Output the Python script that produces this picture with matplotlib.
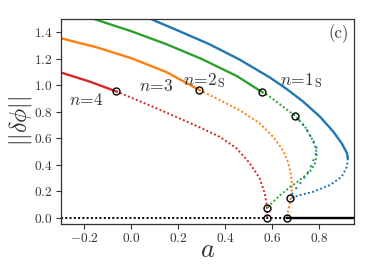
import matplotlib
matplotlib.use("Agg")
import matplotlib.pyplot as plt

plt.rcParams['font.family'] = 'serif'
plt.rcParams['font.serif'] = ['cmr10']
plt.rcParams['mathtext.fontset'] = 'cm'
plt.rcParams['axes.formatter.use_mathtext'] = True

# n=1S (blue)
blue_solid_a = [0.05, 0.09, 0.19, 0.333, 0.461, 0.59, 0.662, 0.733, 0.804, 0.861, 0.897, 0.919, 0.923]
blue_solid_y = [1.525, 1.495, 1.42, 1.31, 1.195, 1.06, 0.973, 0.877, 0.764, 0.651, 0.563, 0.49, 0.45]
blue_low_a = [0.923, 0.919, 0.897, 0.847, 0.776, 0.719, 0.676]
blue_low_y = [0.45, 0.387, 0.311, 0.249, 0.198, 0.173, 0.148]
blue_up_a = [0.676, 0.69, 0.726, 0.754, 0.773, 0.786, 0.790, 0.787, 0.769, 0.74, 0.697]
blue_up_y = [0.148, 0.198, 0.274, 0.349, 0.42, 0.48, 0.52, 0.55, 0.601, 0.689, 0.772]

# n=2S (green)
green_solid_a = [-0.19, -0.15, 0.0, 0.15, 0.30, 0.45, 0.557]
green_solid_y = [1.52, 1.495, 1.408, 1.31, 1.199, 1.07, 0.95]
green_dot_a = [0.557, 0.59, 0.647, 0.697, 0.74, 0.769, 0.787, 0.790, 0.783, 0.761, 0.719, 0.676, 0.633, 0.60, 0.578]
green_dot_y = [0.95, 0.915, 0.839, 0.772, 0.689, 0.601, 0.526, 0.475, 0.412, 0.349, 0.287, 0.232, 0.17, 0.115, 0.073]

# n=3 (orange)
orange_solid_a = [-0.30, -0.15, 0.0, 0.15, 0.29]
orange_solid_y = [1.355, 1.288, 1.205, 1.10, 0.965]
orange_dot_a = [0.29, 0.376, 0.461, 0.547, 0.604, 0.635, 0.652, 0.668, 0.679, 0.685, 0.683, 0.676, 0.668, 0.664]
orange_dot_y = [0.965, 0.89, 0.814, 0.714, 0.613, 0.54, 0.488, 0.42, 0.34, 0.26, 0.19, 0.12, 0.05, 0.0]

# n=4 (red)
red_solid_a = [-0.30, -0.18, -0.065]
red_solid_y = [1.097, 1.03, 0.955]
red_dot_a = [-0.065, 0.05, 0.13, 0.204, 0.29, 0.376, 0.447, 0.504, 0.547, 0.569, 0.578, 0.578]
red_dot_y = [0.955, 0.87, 0.81, 0.752, 0.685, 0.613, 0.528, 0.415, 0.30, 0.186, 0.085, 0.0]

# trivial branch (black)
zero_dot_a = [-0.30, 0.664]
zero_solid_a = [0.664, 0.95]

# bifurcation points
pts_a = [-0.065, 0.29, 0.557, 0.697, 0.676, 0.578, 0.578, 0.664]
pts_y = [0.955, 0.965, 0.95, 0.772, 0.148, 0.073, 0.0, 0.0]

fig = plt.figure(figsize=(3.74, 2.80), dpi=100)
ax = fig.add_axes([0.163, 0.2, 0.784, 0.732])

lw = 1.7
dlw = 1.4
dots = (0, (1, 1.2))
ax.plot(zero_dot_a, [0, 0], color='k', ls=dots, lw=dlw)
ax.plot(zero_solid_a, [0, 0], color='k', ls='-', lw=lw)

ax.plot(blue_solid_a, blue_solid_y, color='tab:blue', lw=lw)
ax.plot(blue_low_a, blue_low_y, color='tab:blue', ls=dots, lw=dlw)
ax.plot(green_solid_a, green_solid_y, color='tab:green', lw=lw)
ax.plot(green_dot_a, green_dot_y, color='tab:green', ls=dots, lw=dlw)
ax.plot(blue_up_a, blue_up_y, color='tab:blue', ls=(1.1, (1, 2.4)), lw=dlw)
ax.plot(orange_solid_a, orange_solid_y, color='tab:orange', lw=lw)
ax.plot(orange_dot_a, orange_dot_y, color='tab:orange', ls=dots, lw=dlw)
ax.plot(red_solid_a, red_solid_y, color='tab:red', lw=lw)
ax.plot(red_dot_a, red_dot_y, color='tab:red', ls=dots, lw=dlw)

ax.plot(pts_a, pts_y, ls='none', marker='o', ms=5, mfc='none', mec='k', mew=1.0, zorder=5)

fs = 12.5
tc = '#333333'
ax.text(-0.192, 0.89, r'$n\!=\!4$', fontsize=fs, ha='center', va='center', color=tc)
ax.text(0.109, 0.995, r'$n\!=\!3$', fontsize=fs, ha='center', va='center', color=tc)
ax.text(0.309, 1.04, r'$n\!=\!2_{\mathrm{S}}$', fontsize=fs, ha='center', va='center', color=tc)
ax.text(0.722, 1.04, r'$n\!=\!1_{\mathrm{S}}$', fontsize=fs, ha='center', va='center', color=tc)
ax.text(0.98, 0.93, '(c)', transform=ax.transAxes, fontsize=12, ha='right', va='center', color=tc)

ax.set_xlim(-0.3, 0.95)
ax.set_ylim(-0.045, 1.5)
ax.set_xticks([-0.2, 0.0, 0.2, 0.4, 0.6, 0.8])
ax.set_yticks([0.0, 0.2, 0.4, 0.6, 0.8, 1.0, 1.2, 1.4])
ax.tick_params(labelsize=9.6, colors=tc, length=3.5, width=0.8, pad=2.5)
for s in ax.spines.values():
    s.set_color(tc)
    s.set_linewidth(0.9)

ax.set_xlabel(r'$a$', fontsize=19, labelpad=-5, color=tc)
ax.set_ylabel(r'$||\delta\phi||$', fontsize=17, labelpad=0, color=tc)

fig.savefig('out.png', dpi=100)
